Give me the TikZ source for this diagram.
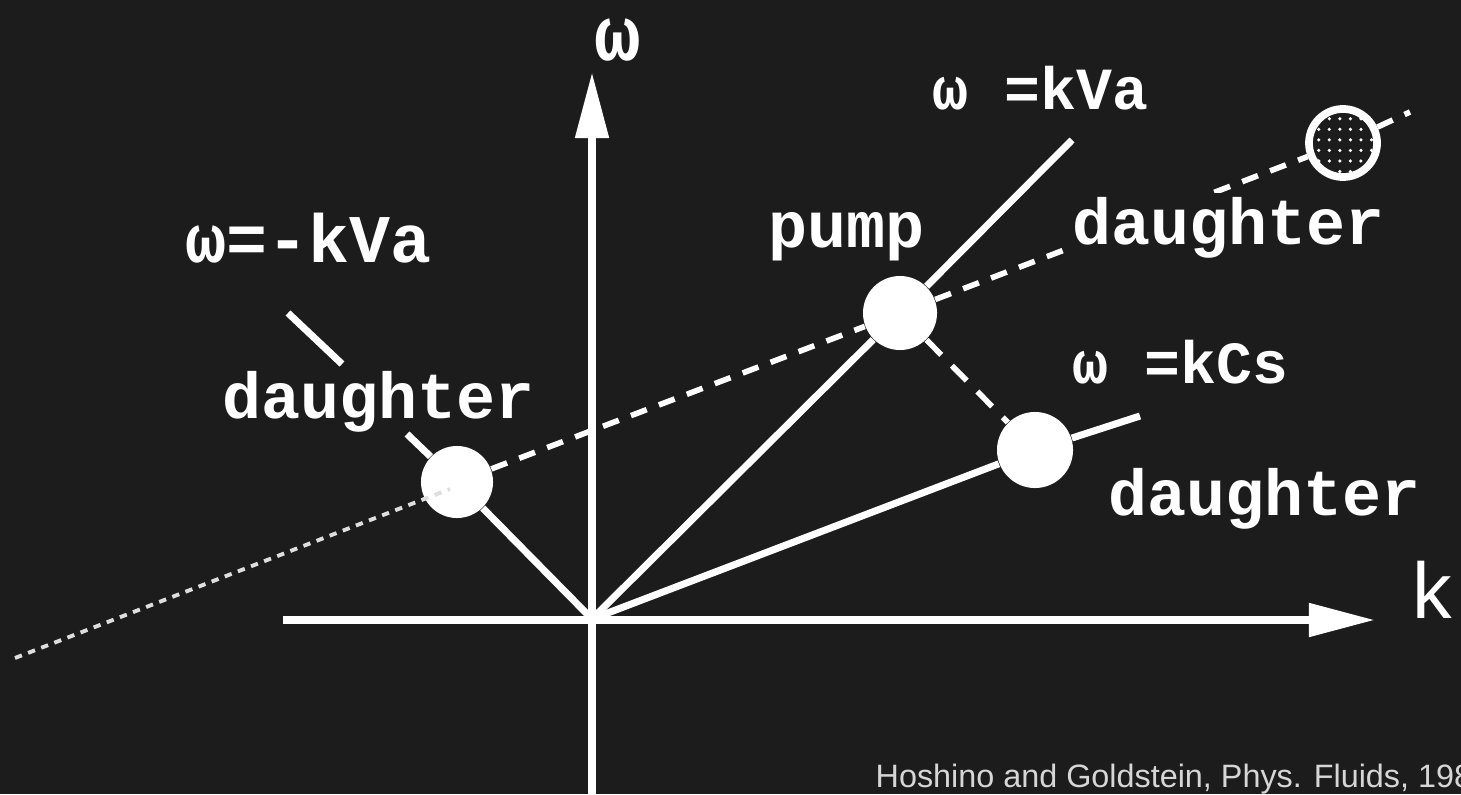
\documentclass[tikz,border=0pt]{standalone}
\usepackage{fontspec}
\setmainfont{Liberation Sans}
\newfontfamily\scanfont{Liberation Mono}
\usetikzlibrary{arrows.meta,patterns}
\definecolor{bgdark}{HTML}{1C1C1C}
\definecolor{capgray}{HTML}{D6D6D6}
\definecolor{overlaygray}{HTML}{DEDEDE}

\begin{document}
\begin{tikzpicture}[x=0.01cm,y=-0.01cm,
  ax/.style={line width=2.3pt,white,-{Triangle[length=0.66cm,width=0.32cm]}},
  ln/.style={line width=2pt,white},
  dsh/.style={line width=1.6pt,white,dash pattern=on 4.8pt off 3.7pt},
  dshb/.style={line width=1.6pt,white,dash pattern=on 6pt off 4.3pt},
  gdsh/.style={line width=1.1pt,overlaygray,dash pattern=on 2.1pt off 1.9pt},
  ball/.style={circle,fill=white,inner sep=0pt,minimum size=0.72cm},
  lab/.style={anchor=base west,inner sep=0pt,text=white,
    font=\scanfont\bfseries\fontsize{18.5}{20}\selectfont},
  eqn/.style={lab,font=\scanfont\bfseries\fontsize{17}{19}\selectfont}]
\fill[bgdark] (0,0) rectangle (1461,794);
\useasboundingbox (0,0) rectangle (1461,794);
% axes
\coordinate (O) at (592,619);
\coordinate (kStart) at (283,620);
\coordinate (kEnd) at (1375,620);
\coordinate (wStart) at (592,794);
\coordinate (wEnd) at (592,72);
\draw[ax] (kStart)--(kEnd);
\draw[ax] (wStart)--(wEnd);
% waves
\node[ball] (dl) at (457,482) {};
\node[ball,minimum size=0.74cm] (pump) at (900,313) {};
\node[ball,minimum size=0.76cm] (dr) at (1035,450) {};
\node[circle,draw=white,line width=2.2pt,inner sep=0pt,minimum size=0.68cm,
  pattern=dots,pattern color=white] (dt) at (1343,143) {};
% dispersion lines
\coordinate (vaEnd) at (1072,140);
\coordinate (csEnd) at (1140,416);
\coordinate (mvaA) at (407,434);
\coordinate (mvaB) at (342,364);
\coordinate (mvaC) at (288,313);
\coordinate (dtEnd) at (1410,112);
\draw[ln] (O)--(pump); \draw[ln] (pump)--(vaEnd);
\draw[ln] (O)--(dr); \draw[ln] (dr)--(csEnd);
\draw[ln] (O)--(dl); \draw[ln] (dl)--(mvaA); \draw[ln] (mvaB)--(mvaC);
\draw[dsh] (dl)--(pump); \draw[dsh] (pump)--(dt); \draw[dsh] (dt)--(dtEnd);
\draw[dshb] (pump)--(dr);
% labels
\node[lab,text height=0.42cm,font=\scanfont\bfseries\fontsize{22}{24}\selectfont] (wlab) at (594,61) {ω};
\node[eqn] (va) at (932,110) {ω =kVa};
\node[lab,font=\scanfont\bfseries\fontsize{19.4}{21}\selectfont] (mva) at (185,262) {ω=-kVa};
\node[lab] (pumplab) at (768,248) {pump};
\node[lab,fill=bgdark,inner sep=1.5pt,xshift=-1.5pt] (dtlab) at (1072,245) {daughter};
\node[lab] (dllab) at (222,418) {daughter};
\node[eqn] (cs) at (1072,383) {ω =kCs};
\node[lab] (drlab) at (1108,515) {daughter};
\node[anchor=base west,inner sep=0pt,text=white,font=\fontsize{22.5}{24}\selectfont] (klab) at (1412,618) {k};
% overlay
\coordinate (gStart) at (15,658);
\coordinate (gEnd) at (450,489);
\draw[gdsh] (gStart)--(gEnd);
\node[anchor=base west,inner sep=0pt,text=capgray,font=\fontsize{9.2}{11}\selectfont] (cap) at (875,787)
  {Hoshino and Goldstein, Phys. Fluids, 198};
\end{tikzpicture}
\end{document}
